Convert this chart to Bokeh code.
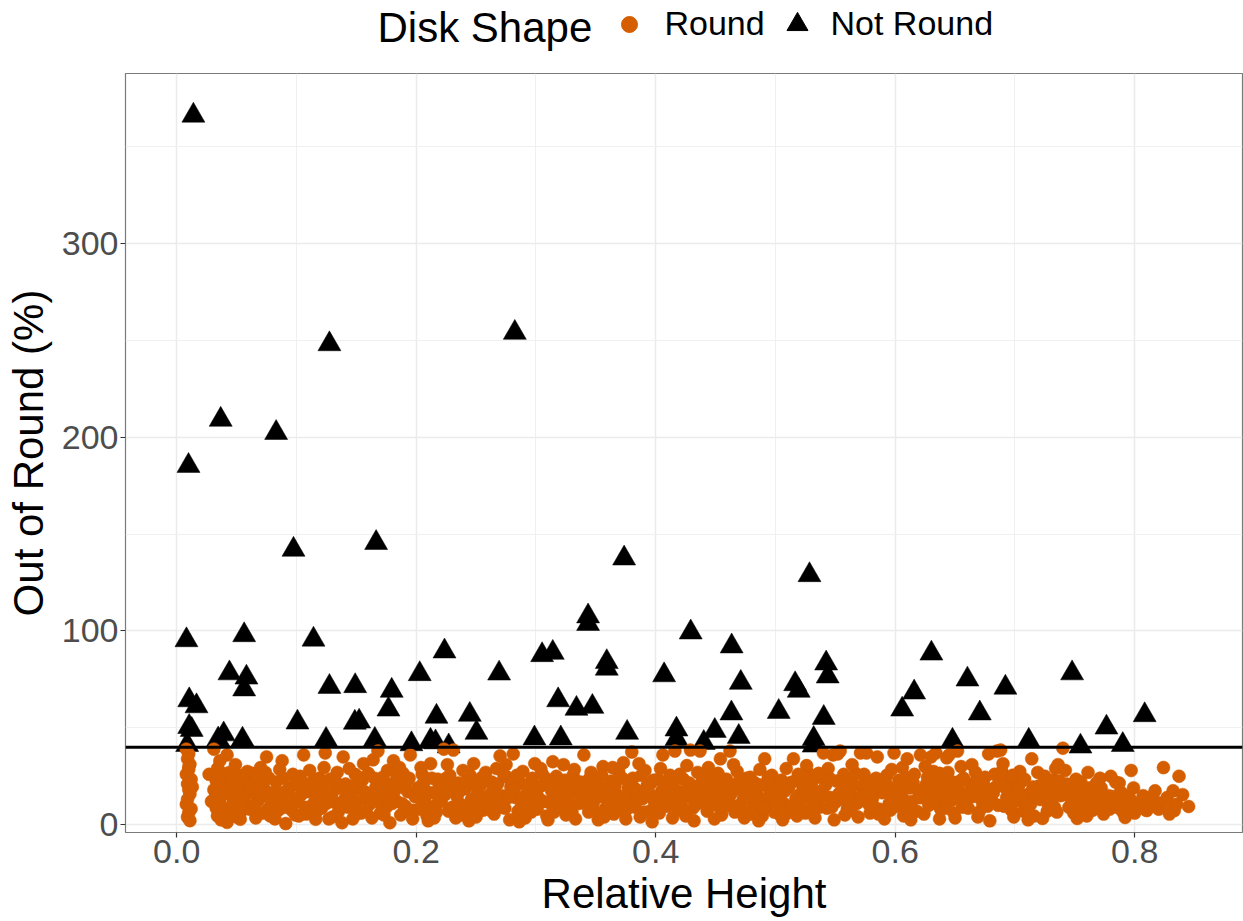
from bokeh.plotting import figure
from bokeh.layouts import column
from bokeh.core.properties import value
from bokeh.models import Range1d, FixedTicker, PrintfTickFormatter, Span
from bokeh.embed import file_html
from bokeh.resources import INLINE

# ---------------- data ----------------
x_ticks = [0.0, 0.2, 0.4, 0.6, 0.8]
x_minor = [0.1, 0.3, 0.5, 0.7]
y_ticks = [0, 100, 200, 300]
y_minor = [50, 150, 250, 350]
threshold = 40
legend_title = "Disk Shape"
legend_labels = ["Round", "Not Round"]

# "Not Round" disks (black triangles)
tri_x = [0.0139, 0.0098, 0.0367, 0.0830, 0.0975, 0.1275, 0.1665, 0.2823, 0.0081, 0.0563,
         0.1142, 0.2236, 0.0440, 0.0582, 0.0563, 0.2029, 0.2692, 0.1275, 0.1490, 0.1795,
         0.1768, 0.0104, 0.0165, 0.2169, 0.2447, 0.2503, 0.1008, 0.1487, 0.1523, 0.0104,
         0.0125, 0.0087, 0.0346, 0.0392, 0.0549, 0.1247, 0.1654, 0.1960, 0.2119, 0.2161,
         0.2271, 0.3736, 0.5284, 0.3435, 0.3435, 0.4292, 0.4634, 0.3051, 0.3140, 0.3591,
         0.3591, 0.4070, 0.4710, 0.5423, 0.5436, 0.5164, 0.5194, 0.6302, 0.3185, 0.3338,
         0.3471, 0.4632, 0.5027, 0.5403, 0.6058, 0.6158, 0.2987, 0.3207, 0.3761, 0.4173,
         0.4173, 0.4493, 0.4401, 0.4693, 0.5319, 0.5319, 0.6603, 0.6920, 0.6706, 0.7477,
         0.8083, 0.7764, 0.6478, 0.7115, 0.7547, 0.7900]
tri_y = [366.1, 185.3, 209.1, 202.3, 142.0, 248.1, 145.5, 254.0, 95.3, 97.9,
         95.6, 89.5, 78.2, 76.0, 69.9, 77.8, 78.1, 71.2, 71.6, 69.2,
         59.5, 64.3, 61.2, 55.8, 56.8, 47.5, 52.8, 52.7, 53.3, 50.5,
         49.0, 41.2, 44.1, 46.7, 44.0, 43.9, 43.9, 41.6, 43.4, 42.6,
         40.5, 137.5, 128.9, 107.6, 103.7, 99.3, 92.1, 87.6, 88.8, 84.0,
         80.6, 77.2, 73.3, 83.3, 76.6, 72.6, 69.2, 88.4, 64.3, 59.9,
         60.9, 57.5, 58.3, 55.2, 59.5, 68.3, 44.6, 44.6, 47.5, 49.2,
         44.3, 48.5, 42.3, 45.4, 44.3, 40.9, 75.0, 70.8, 57.5, 78.2,
         56.6, 50.2, 43.4, 43.4, 40.4, 41.2]

# "Round" disks (orange circles)
round_x = [
    0.008, 0.010, 0.009, 0.011, 0.010, 0.008, 0.012, 0.009, 0.010, 0.011, 0.009, 0.008, 0.012, 0.010, 0.009, 0.011, 0.013, 0.010,
    0.027, 0.031, 0.033, 0.035, 0.036, 0.038, 0.034, 0.039, 0.037, 0.032, 0.036, 0.039, 0.033,
    0.042, 0.042, 0.044, 0.046, 0.048, 0.045, 0.050, 0.052, 0.055, 0.057, 0.049, 0.054, 0.058, 0.047, 0.053,
    0.061, 0.063, 0.066, 0.068, 0.070, 0.072, 0.075, 0.077, 0.079, 0.064, 0.073, 0.078, 0.069,
    0.081, 0.083, 0.085, 0.088, 0.091, 0.093, 0.095, 0.097, 0.099, 0.086, 0.090, 0.094, 0.098,
    0.101, 0.103, 0.106, 0.108, 0.110, 0.112, 0.114, 0.116, 0.118, 0.105, 0.111, 0.117, 0.119,
    0.121, 0.124, 0.126, 0.128, 0.130, 0.132, 0.134, 0.136, 0.138, 0.139, 0.123, 0.129, 0.135,
    0.141, 0.143, 0.145, 0.147, 0.149, 0.151, 0.153, 0.156, 0.158, 0.144, 0.150, 0.155, 0.159,
    0.161, 0.164, 0.166, 0.168, 0.170, 0.172, 0.174, 0.176, 0.178, 0.163, 0.169, 0.175, 0.179,
    0.181, 0.183, 0.185, 0.187, 0.189, 0.191, 0.193, 0.195, 0.197, 0.199, 0.186, 0.192, 0.198,
    0.201, 0.203, 0.205, 0.207, 0.209, 0.212, 0.214, 0.216, 0.218, 0.204, 0.210, 0.217, 0.219,
    0.221, 0.223, 0.225, 0.227, 0.229, 0.231, 0.233, 0.235, 0.237, 0.239, 0.226, 0.234, 0.238,
    0.241, 0.243, 0.245, 0.248, 0.250, 0.252, 0.254, 0.256, 0.258, 0.244, 0.251, 0.257, 0.259,
    0.261, 0.263, 0.265, 0.267, 0.270, 0.272, 0.274, 0.276, 0.278, 0.264, 0.269, 0.275, 0.279,
    0.281, 0.283, 0.285, 0.287, 0.289, 0.291, 0.293, 0.295, 0.297, 0.299, 0.286, 0.292, 0.298,
    0.301, 0.303, 0.305, 0.307, 0.309, 0.311, 0.314, 0.316, 0.318, 0.304, 0.310, 0.315, 0.319,
    0.321, 0.323, 0.325, 0.327, 0.329, 0.331, 0.333, 0.335, 0.337, 0.340, 0.326, 0.332, 0.338,
    0.342, 0.344, 0.346, 0.348, 0.350, 0.352, 0.354, 0.356, 0.358, 0.345, 0.351, 0.357, 0.359,
    0.361, 0.363, 0.365, 0.367, 0.369, 0.371, 0.373, 0.375, 0.377, 0.380, 0.364, 0.370, 0.378,
    0.381, 0.383, 0.385, 0.387, 0.389, 0.391, 0.393, 0.395, 0.397, 0.399, 0.386, 0.392, 0.398,
    0.401, 0.403, 0.406, 0.408, 0.410, 0.412, 0.414, 0.416, 0.418, 0.404, 0.409, 0.415, 0.419,
    0.421, 0.423, 0.425, 0.427, 0.429, 0.431, 0.433, 0.435, 0.437, 0.439, 0.426, 0.432, 0.438,
    0.441, 0.443, 0.445, 0.447, 0.449, 0.451, 0.454, 0.456, 0.458, 0.444, 0.450, 0.455, 0.459,
    0.461, 0.462, 0.464, 0.466, 0.468, 0.470, 0.472, 0.474, 0.476, 0.478, 0.465, 0.471, 0.477,
    0.481, 0.483, 0.485, 0.487, 0.489, 0.491, 0.493, 0.495, 0.497, 0.499, 0.486, 0.492, 0.498,
    0.501, 0.503, 0.505, 0.507, 0.509, 0.511, 0.513, 0.515, 0.517, 0.519, 0.506, 0.512, 0.518,
    0.521, 0.523, 0.525, 0.527, 0.529, 0.531, 0.533, 0.535, 0.537, 0.540, 0.526, 0.532, 0.538,
    0.541, 0.543, 0.545, 0.548, 0.550, 0.552, 0.554, 0.556, 0.558, 0.544, 0.549, 0.555, 0.559,
    0.561, 0.563, 0.565, 0.567, 0.569, 0.571, 0.573, 0.576, 0.578, 0.564, 0.570, 0.575, 0.579,
    0.581, 0.583, 0.585, 0.587, 0.589, 0.591, 0.593, 0.595, 0.597, 0.599, 0.586, 0.592, 0.598,
    0.601, 0.603, 0.605, 0.607, 0.610, 0.612, 0.614, 0.616, 0.618, 0.621, 0.606, 0.613, 0.619,
    0.622, 0.624, 0.626, 0.628, 0.630, 0.632, 0.634, 0.636, 0.638, 0.625, 0.631, 0.637, 0.639,
    0.641, 0.643, 0.645, 0.647, 0.649, 0.652, 0.654, 0.656, 0.658, 0.644, 0.650, 0.655, 0.659,
    0.661, 0.663, 0.665, 0.667, 0.669, 0.671, 0.673, 0.675, 0.678, 0.664, 0.670, 0.676, 0.679,
    0.681, 0.683, 0.685, 0.688, 0.690, 0.693, 0.695, 0.697, 0.699, 0.684, 0.691, 0.696, 0.700,
    0.702, 0.704, 0.707, 0.710, 0.712, 0.714, 0.716, 0.719, 0.720, 0.705, 0.711, 0.717,
    0.723, 0.726, 0.728, 0.730, 0.732, 0.734, 0.735, 0.736, 0.738, 0.725, 0.739,
    0.740, 0.742, 0.745, 0.747, 0.750, 0.752, 0.755, 0.757, 0.760, 0.744, 0.749, 0.758,
    0.761, 0.762, 0.765, 0.767, 0.769, 0.771, 0.774, 0.776, 0.779, 0.780,
    0.783, 0.785, 0.788, 0.790, 0.792, 0.795, 0.797, 0.799, 0.787,
    0.802, 0.807, 0.810, 0.815, 0.819, 0.820, 0.824, 0.827, 0.832, 0.833, 0.837, 0.845,
    # second pass (denser core of the cloud)
    0.029, 0.034, 0.037, 0.031, 0.038, 0.035,
    0.043, 0.047, 0.051, 0.056, 0.059, 0.045, 0.053,
    0.062, 0.065, 0.071, 0.074, 0.076, 0.067, 0.080,
    0.082, 0.084, 0.087, 0.089, 0.092, 0.096, 0.100,
    0.102, 0.104, 0.107, 0.109, 0.113, 0.115, 0.120,
    0.122, 0.125, 0.127, 0.131, 0.133, 0.137, 0.140,
    0.142, 0.146, 0.148, 0.152, 0.154, 0.157, 0.160,
    0.162, 0.165, 0.167, 0.171, 0.173, 0.177, 0.180,
    0.182, 0.184, 0.188, 0.190, 0.194, 0.196, 0.200,
    0.202, 0.206, 0.208, 0.211, 0.213, 0.215, 0.220,
    0.222, 0.224, 0.228, 0.230, 0.232, 0.236, 0.240,
    0.242, 0.246, 0.247, 0.249, 0.253, 0.255, 0.260,
    0.262, 0.266, 0.268, 0.271, 0.273, 0.277, 0.280,
    0.282, 0.284, 0.288, 0.290, 0.294, 0.296, 0.300,
    0.302, 0.306, 0.308, 0.312, 0.313, 0.317, 0.320,
    0.322, 0.324, 0.328, 0.330, 0.334, 0.336, 0.339,
    0.341, 0.343, 0.347, 0.349, 0.353, 0.355, 0.360,
    0.362, 0.366, 0.368, 0.372, 0.374, 0.376, 0.379,
    0.382, 0.384, 0.388, 0.390, 0.394, 0.396, 0.400,
    0.402, 0.405, 0.407, 0.411, 0.413, 0.417, 0.420,
    0.422, 0.424, 0.428, 0.430, 0.434, 0.436, 0.440,
    0.442, 0.446, 0.448, 0.452, 0.453, 0.457, 0.460,
    0.463, 0.467, 0.469, 0.473, 0.475, 0.479, 0.480,
    0.482, 0.484, 0.488, 0.490, 0.494, 0.496, 0.500,
    0.502, 0.504, 0.508, 0.510, 0.514, 0.516, 0.520,
    0.522, 0.524, 0.528, 0.530, 0.534, 0.536, 0.539,
    0.542, 0.546, 0.547, 0.551, 0.553, 0.557, 0.560,
    0.562, 0.566, 0.568, 0.572, 0.574, 0.577, 0.580,
    0.582, 0.584, 0.588, 0.590, 0.594, 0.596, 0.600,
    0.602, 0.604, 0.608, 0.609, 0.611, 0.615, 0.620,
    0.623, 0.627, 0.629, 0.633, 0.635, 0.640, 0.637,
    0.642, 0.646, 0.648, 0.651, 0.653, 0.657, 0.660,
    0.662, 0.666, 0.668, 0.672, 0.674, 0.677, 0.680,
    0.682, 0.686, 0.687, 0.689, 0.692, 0.694, 0.698,
    0.703, 0.706, 0.708, 0.713, 0.715, 0.718,
    0.721, 0.724, 0.727, 0.731, 0.733, 0.737,
    0.741, 0.743, 0.746, 0.748, 0.751, 0.754, 0.756, 0.759,
    0.763, 0.764, 0.768, 0.770, 0.772, 0.775, 0.778,
    0.781, 0.784, 0.789, 0.791, 0.794, 0.796, 0.800,
    0.804, 0.806, 0.812, 0.814, 0.817, 0.822, 0.826, 0.829, 0.835, 0.840,
]
round_y = [
    39.0, 36.5, 34.0, 31.2, 28.5, 26.0, 23.4, 21.0, 18.2, 15.8, 13.1, 10.5, 8.2, 6.0, 3.9, 2.1, 19.5, 29.8,
    26.0, 39.0, 22.5, 17.0, 11.5, 6.0, 29.0, 24.0, 2.5, 14.0, 33.0, 19.5, 8.5,
    36.0, 1.2, 27.0, 21.5, 15.0, 9.0, 4.0, 25.5, 18.0, 11.0, 31.0, 7.0, 22.0, 13.0, 2.8,
    8.0, 26.5, 3.5, 12.5, 29.5, 6.0, 35.0, 24.0, 10.5, 16.0, 18.5, 4.5, 21.5,
    14.0, 22.0, 7.5, 33.0, 0.6, 18.5, 11.0, 26.0, 5.0, 28.5, 9.0, 15.5, 20.5,
    12.0, 25.0, 36.0, 5.5, 17.0, 9.5, 22.5, 2.8, 13.5, 19.5, 28.0, 7.0, 24.0,
    8.5, 37.0, 16.0, 23.5, 4.0, 11.5, 27.0, 19.0, 1.0, 35.0, 29.5, 14.0, 6.5,
    21.0, 9.0, 15.5, 3.0, 26.0, 12.0, 18.5, 31.5, 7.0, 29.0, 5.5, 23.0, 13.5,
    10.5, 33.5, 19.0, 38.0, 6.0, 24.5, 14.0, 28.0, 1.0, 3.5, 16.5, 9.0, 21.0,
    33.0, 12.5, 20.0, 5.0, 26.5, 9.5, 17.0, 36.0, 3.0, 14.5, 29.5, 22.5, 7.5,
    19.0, 8.0, 26.0, 13.0, 4.5, 31.5, 16.5, 10.0, 23.5, 29.5, 2.0, 6.5, 21.0,
    12.0, 39.0, 24.0, 7.0, 17.5, 38.5, 3.5, 21.5, 10.5, 28.0, 31.0, 14.5, 5.0,
    18.5, 9.0, 25.5, 31.5, 4.0, 13.5, 20.5, 7.5, 27.0, 2.0, 16.0, 11.0, 23.0,
    11.5, 22.0, 5.5, 29.0, 35.5, 15.0, 8.5, 24.5, 2.5, 18.0, 12.5, 31.0, 19.5,
    36.5, 14.0, 7.0, 21.5, 27.5, 3.5, 17.0, 10.5, 24.0, 31.5, 1.5, 12.0, 19.0,
    8.0, 19.5, 26.5, 12.0, 4.5, 22.5, 32.5, 15.5, 9.5, 29.0, 2.5, 6.5, 17.5,
    13.0, 31.0, 5.0, 20.0, 10.0, 25.5, 3.0, 16.5, 22.0, 36.0, 8.0, 28.5, 12.5,
    18.0, 6.5, 27.0, 11.5, 21.5, 2.5, 14.5, 30.0, 8.5, 24.0, 16.0, 4.0, 19.5,
    10.0, 22.5, 5.5, 16.0, 27.5, 12.5, 32.0, 3.0, 19.0, 37.5, 29.5, 7.5, 14.0,
    24.0, 9.0, 17.5, 4.0, 13.5, 28.0, 20.5, 7.0, 1.5, 11.5, 31.5, 15.0, 23.0,
    14.5, 6.0, 36.0, 21.0, 9.5, 25.5, 3.5, 38.0, 17.0, 29.0, 12.0, 19.5, 7.5,
    11.0, 23.5, 4.5, 16.0, 38.5, 8.5, 19.5, 27.0, 38.0, 13.5, 30.5, 2.0, 21.5,
    17.5, 7.0, 25.0, 12.0, 3.0, 21.0, 34.0, 14.5, 9.5, 29.5, 15.0, 5.0, 23.5,
    12.5, 38.0, 20.0, 6.5, 27.5, 10.0, 17.5, 3.5, 24.0, 14.0, 31.0, 8.0, 19.0,
    9.0, 21.5, 15.0, 28.5, 4.5, 34.0, 11.5, 18.0, 25.5, 6.5, 2.0, 13.0, 22.0,
    16.5, 5.5, 23.0, 11.0, 29.0, 19.0, 8.0, 34.0, 13.5, 26.0, 2.5, 21.5, 4.5,
    10.5, 19.5, 6.0, 27.0, 14.0, 22.5, 3.5, 17.0, 9.0, 37.0, 30.5, 12.0, 24.5,
    15.0, 8.5, 24.0, 36.0, 11.5, 36.5, 38.0, 20.0, 5.0, 29.0, 2.5, 17.0, 12.0,
    22.0, 7.5, 14.0, 26.5, 4.0, 37.0, 18.5, 37.0, 10.5, 31.0, 12.0, 23.5, 6.0,
    13.5, 20.0, 35.0, 8.0, 16.5, 3.0, 25.5, 11.0, 28.5, 37.0, 5.5, 21.5, 14.5,
    9.5, 23.0, 15.5, 4.5, 34.0, 19.0, 12.0, 26.0, 7.0, 36.0, 29.5, 2.5, 17.5,
    14.0, 5.5, 21.0, 10.0, 35.0, 27.5, 37.0, 16.5, 8.0, 30.0, 18.5, 3.0, 24.0,
    19.5, 34.5, 36.0, 12.5, 6.0, 38.0, 22.5, 9.0, 15.5, 27.0, 3.5, 30.0, 11.0,
    8.5, 21.0, 14.5, 27.0, 4.0, 17.5, 11.0, 24.5, 36.5, 31.0, 6.5, 19.0, 2.0,
    12.0, 26.0, 38.0, 38.5, 31.5, 14.0, 24.0, 7.5, 4.0, 19.5, 9.5, 21.5, 17.0,
    12.5, 27.5, 7.0, 9.5, 16.0, 34.0, 4.5, 27.0, 20.0, 22.0, 2.5, 13.5,
    3.2, 17.5, 10.0, 12.5, 23.0, 29.0, 6.5, 31.0, 15.0, 25.0, 19.5,
    39.5, 28.0, 9.0, 13.5, 17.5, 3.2, 22.0, 11.0, 4.5, 20.5, 6.0, 15.5,
    27.0, 19.0, 7.5, 14.0, 10.0, 24.0, 5.5, 11.0, 8.0, 25.0,
    13.0, 9.0, 17.0, 6.5, 3.7, 11.5, 28.0, 19.0, 21.5,
    11.0, 15.0, 7.3, 12.0, 11.5, 8.0, 29.5, 14.0, 17.5, 7.3, 25.0, 9.4,
    # second pass
    12.0, 4.5, 27.0, 18.0, 15.5, 20.5,
    18.5, 5.5, 20.0, 14.0, 27.5, 24.0, 9.5,
    19.0, 10.0, 14.5, 27.0, 8.0, 24.5, 16.5,
    3.0, 10.5, 16.5, 24.0, 12.5, 7.5, 23.0,
    4.5, 15.5, 9.0, 21.0, 18.0, 11.5, 16.0,
    20.5, 11.0, 3.0, 17.5, 22.0, 9.5, 13.0,
    16.5, 20.0, 10.5, 24.5, 6.0, 17.0, 26.5,
    14.0, 24.0, 12.0, 19.5, 5.0, 16.5, 11.0,
    17.5, 25.0, 11.0, 19.0, 24.0, 6.0, 15.0,
    14.0, 21.5, 17.5, 8.5, 24.0, 3.5, 13.0,
    20.0, 15.5, 25.5, 9.0, 19.5, 17.0, 8.0,
    22.5, 13.0, 5.5, 20.5, 10.5, 24.5, 15.0,
    7.5, 16.5, 21.0, 9.0, 26.0, 14.0, 22.0,
    18.5, 25.5, 10.0, 14.5, 21.0, 6.5, 16.0,
    14.0, 20.5, 24.0, 11.0, 17.5, 25.0, 21.0,
    18.5, 23.0, 15.5, 6.5, 20.5, 11.0, 16.0,
    11.0, 22.5, 16.0, 7.0, 19.0, 25.5, 13.0,
    17.5, 20.0, 9.5, 24.0, 14.5, 8.0, 22.5,
    19.0, 13.0, 25.5, 6.5, 17.0, 21.5, 9.0,
    23.5, 17.5, 11.0, 15.5, 22.0, 13.5, 26.0,
    17.0, 8.0, 21.5, 14.0, 10.5, 18.5, 24.0,
    11.5, 20.5, 16.0, 26.5, 9.0, 19.0, 13.0,
    16.0, 9.5, 22.0, 13.0, 20.5, 24.5, 5.5,
    17.0, 12.0, 20.5, 8.5, 24.5, 14.5, 11.0,
    20.0, 13.0, 17.5, 6.0, 22.0, 10.5, 15.5,
    25.0, 15.5, 19.0, 8.0, 13.0, 26.5, 17.5,
    20.5, 14.0, 9.0, 22.5, 16.0, 26.0, 8.0,
    17.0, 20.5, 11.0, 15.0, 26.0, 21.0, 16.0,
    9.5, 24.0, 18.5, 22.0, 16.5, 7.5, 19.0,
    16.0, 20.0, 12.5, 24.5, 8.5, 21.5, 14.0,
    18.0, 24.5, 13.5, 21.5, 10.5, 15.0, 26.5,
    8.5, 17.5, 22.0, 14.0, 18.5, 24.0, 16.0,
    15.0, 18.0, 22.5, 13.5, 20.0, 9.5, 16.5,
    16.5, 10.0, 21.5, 27.5, 19.0, 11.5, 25.5,
    18.0, 14.5, 23.5, 10.5, 19.5, 16.0,
    13.0, 21.5, 7.0, 17.0, 9.0, 22.5,
    15.5, 21.0, 17.5, 11.5, 23.5, 9.0, 14.5, 18.5,
    12.0, 16.5, 21.5, 13.5, 19.0, 9.5, 15.0,
    14.5, 22.0, 10.5, 15.5, 8.0, 13.5, 6.0,
    8.5, 12.5, 14.0, 9.5, 17.5, 10.0, 12.0, 5.5, 10.5, 15.5,
]

ORANGE = "#D55E00"
FONT = "Liberation Sans"
W = 1243
LEFT, RIGHT, TOP, BOTTOM = 125, 1, 73, 89

# ---------------- header: legend drawn in a pixel-coordinate strip ----------------
hdr = figure(width=W, height=TOP, output_backend="svg", toolbar_location=None,
             x_range=Range1d(LEFT, W - RIGHT), y_range=Range1d(TOP, 0),
             x_axis_location=None, y_axis_location=None,
             min_border_left=LEFT, min_border_right=RIGHT,
             min_border_top=0, min_border_bottom=0)
hdr.outline_line_color = None
hdr.background_fill_color = "white"
hdr.border_fill_color = "white"
hdr.grid.visible = False

# legend layout (pixel positions of the legend keys and labels)
key_x = [629, 797]
key_y = [24, 24]
lab_x = [664, 830]
hdr.text(x=[377], y=[27], text=[legend_title], text_align=value("left"),
         text_baseline=value("alphabetic"), text_font=value(FONT),
         text_font_size=value("42px"), text_color="black")
hdr.scatter(x=key_x[:1], y=key_y[:1], marker="circle", size=16,
            fill_color=ORANGE, line_color=ORANGE)
hdr.scatter(x=key_x[1:], y=key_y[1:], marker="triangle", size=21,
            fill_color="black", line_color="black")
hdr.text(x=lab_x, y=[22, 22], text=legend_labels, text_align=value("left"),
         text_baseline=value("alphabetic"), text_font=value(FONT),
         text_font_size=value("34px"), text_color="black")

# ---------------- main panel ----------------
p = figure(width=W, height=921 - TOP, output_backend="svg", toolbar_location=None,
           x_range=Range1d(-0.0428, 0.8900), y_range=Range1d(-4.03, 387.8),
           min_border_left=LEFT, min_border_right=RIGHT, min_border_top=0,
           min_border_bottom=BOTTOM)
p.background_fill_color = "white"
p.border_fill_color = "white"
p.outline_line_color = "#7a7a7a"
p.outline_line_width = 1.2

xt = FixedTicker(ticks=x_ticks, minor_ticks=x_minor)
yt = FixedTicker(ticks=y_ticks, minor_ticks=y_minor)
p.xaxis.ticker = xt
p.yaxis.ticker = yt
p.xgrid.ticker = xt
p.ygrid.ticker = yt
p.xaxis.formatter = PrintfTickFormatter(format="%.1f")

for g in (p.xgrid, p.ygrid):
    g.grid_line_color = "#EBEBEB"
    g.grid_line_width = 1.5
    g.minor_grid_line_color = "#F0F0F0"
    g.minor_grid_line_width = 1.0

for ax in (p.xaxis, p.yaxis):
    ax.axis_line_color = None
    ax.major_tick_line_color = "#333333"
    ax.major_tick_line_width = 1.2
    ax.major_tick_out = 5
    ax.major_tick_in = 0
    ax.minor_tick_line_color = None
    ax.major_label_text_font = FONT
    ax.major_label_text_font_size = "34px"
    ax.major_label_text_color = "#4D4D4D"
    ax.major_label_standoff = 2
    ax.axis_label_text_font = FONT
    ax.axis_label_text_font_size = "42px"
    ax.axis_label_text_font_style = "normal"
    ax.axis_label_text_color = "black"

p.xaxis.axis_label = "Relative Height"
p.yaxis.axis_label = "Out of Round (%)"
p.xaxis.axis_label_standoff = 4
p.yaxis.axis_label_standoff = 7

p.scatter(tri_x, tri_y, marker="triangle", size=23, fill_color="black",
          line_color="black", line_width=0.5)
p.scatter(round_x, round_y, marker="circle", size=13, fill_color=ORANGE,
          line_color=ORANGE, line_width=0.5)

p.add_layout(Span(location=threshold, dimension="width", line_color="black", line_width=3))

layout = column(hdr, p, spacing=0)
open("out.html", "w").write(file_html(layout, INLINE))
